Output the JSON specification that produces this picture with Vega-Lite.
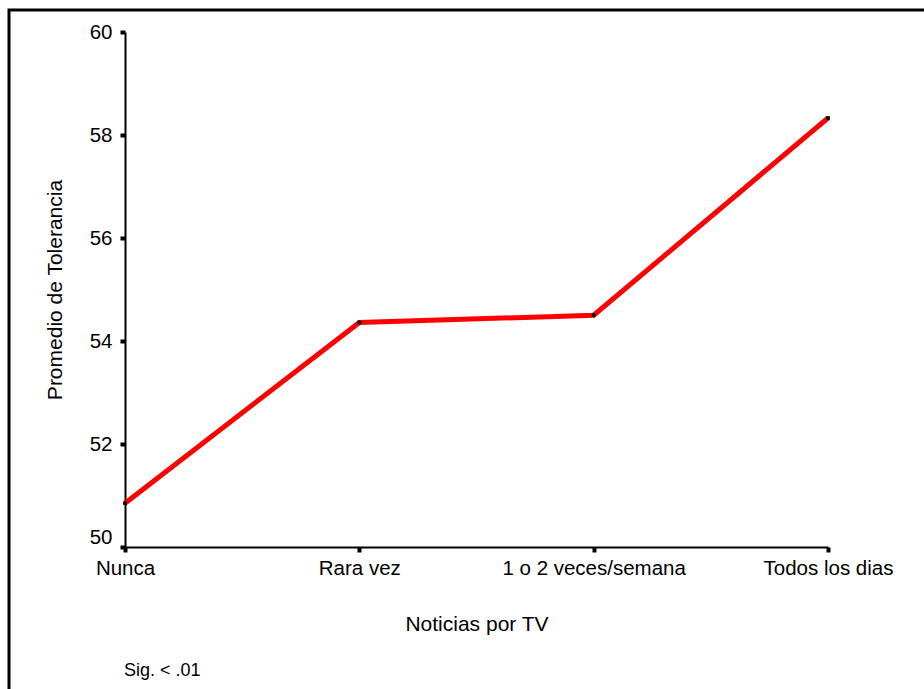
{
  "$schema": "https://vega.github.io/schema/vega-lite/v6.json",
  "autosize": "none",
  "padding": {"left": 9, "top": 10, "right": 0, "bottom": 0},
  "width": 915,
  "height": 679,
  "background": "white",
  "title": {
    "text": "Sig. < .01",
    "orient": "bottom",
    "anchor": "start",
    "frame": "group",
    "dx": 115,
    "dy": -31,
    "font": "Liberation Sans",
    "fontSize": 18,
    "fontWeight": "normal",
    "color": "black"
  },
  "data": {
    "values": [
      {"frecuencia": "Nunca", "promedio": 50.85},
      {"frecuencia": "Rara vez", "promedio": 54.36},
      {"frecuencia": "1 o 2 veces/semana", "promedio": 54.5},
      {"frecuencia": "Todos los dias", "promedio": 58.33}
    ]
  },
  "encoding": {
    "x": {
      "field": "frecuencia",
      "type": "ordinal",
      "sort": null,
      "scale": {"type": "point", "range": [116, 819], "padding": 0},
      "axis": {
        "orient": "bottom",
        "offset": -142,
        "title": "Noticias por TV",
        "titleFont": "Liberation Sans",
        "titleFontSize": 21,
        "titleFontWeight": "normal",
        "titleColor": "black",
        "titlePadding": 35,
        "labelAngle": 0,
        "labelFont": "Liberation Sans",
        "labelFontSize": 20.5,
        "labelColor": "black",
        "labelPadding": 6,
        "labelLimit": 400,
        "labelOverlap": false,
        "domainColor": "black",
        "domainWidth": 2,
        "tickColor": "black",
        "tickSize": 5,
        "tickWidth": 4,
        "grid": false
      }
    },
    "y": {
      "field": "promedio",
      "type": "quantitative",
      "scale": {"domain": [50, 60], "range": [537, 22], "nice": false, "zero": false},
      "axis": {
        "orient": "left",
        "offset": -116,
        "values": [50, 52, 54, 56, 58, 60],
        "title": "Promedio de Tolerancia",
        "titleFont": "Liberation Sans",
        "titleFontSize": 21,
        "titleFontWeight": "normal",
        "titleColor": "black",
        "titleX": -70,
        "titleBaseline": "middle",
        "labelFont": "Liberation Sans",
        "labelFontSize": 20.5,
        "labelColor": "black",
        "labelPadding": 8,
        "labelOffset": {"condition": {"test": "datum.value == 50", "value": -10}, "value": 0},
        "domainColor": "black",
        "domainWidth": 2,
        "tickColor": "black",
        "tickSize": 5,
        "tickWidth": 4,
        "grid": false
      }
    }
  },
  "layer": [
    {"mark": {"type": "line", "color": "#ff0000", "strokeWidth": 5}},
    {"mark": {"type": "point", "shape": "square", "filled": true, "color": "black", "opacity": 1, "size": 14}}
  ],
  "config": {
    "view": {"stroke": "black", "strokeWidth": 3, "strokeDash": [915, 1594, 679, 0], "strokeCap": "square"}
  }
}
